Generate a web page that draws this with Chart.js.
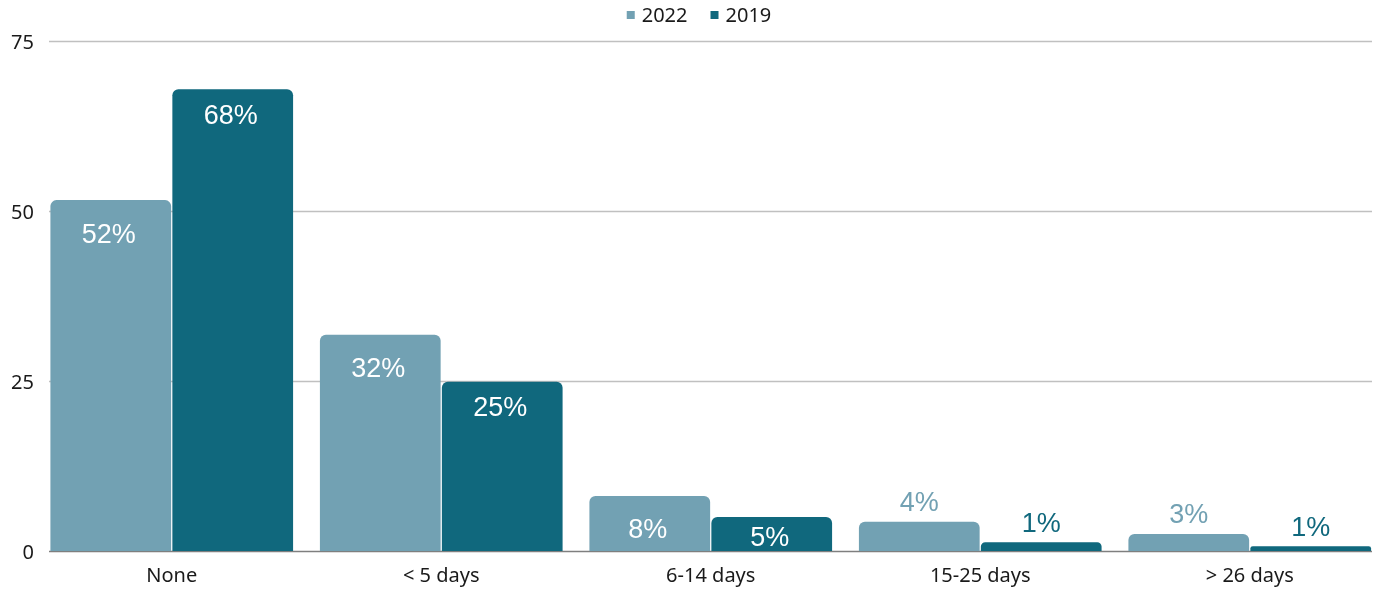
<!DOCTYPE html>
<html>
<head>
<meta charset="utf-8">
<script src="https://cdn.jsdelivr.net/npm/chart.js@4/dist/chart.umd.min.js"></script>
<style>
  html, body { margin: 0; padding: 0; background: #fff; overflow: hidden; }
  #wrap { width: 1400px; height: 590px; }
</style>
</head>
<body>
<div id="wrap"><canvas id="myChart" width="1400" height="590"></canvas></div>
<script>
// data
const categories = ['None', '< 5 days', '6-14 days', '15-25 days', '> 26 days'];
const series2022 = [51.6, 31.8, 8.1, 4.3, 2.5];
const series2019 = [67.9, 24.9, 5.0, 1.3, 0.7];
const yTicks = [0, 25, 50, 75];

const color2022 = '#72a1b3';
const color2019 = '#10687d';

// gridlines drawn by hand so they start at the first bar, not at the axis
const gridLines = {
  id: 'gridLines',
  beforeDatasetsDraw(chart) {
    const { ctx } = chart;
    const y = chart.scales.y;
    ctx.save();
    y.ticks.forEach(t => {
      const py = Math.round(y.getPixelForValue(t.value)) + 0.5;
      ctx.beginPath();
      ctx.strokeStyle = t.value === 0 ? '#7f7f7f' : '#c0c0c0';
      ctx.lineWidth = 1.3;
      ctx.moveTo(49, py);
      ctx.lineTo(1372, py);
      ctx.stroke();
    });
    ctx.restore();
  }
};

// value labels: white inside tall bars, coloured above short ones
const barLabels = {
  id: 'barLabels',
  afterDatasetsDraw(chart) {
    const { ctx } = chart;
    ctx.save();
    ctx.font = '27px "Liberation Sans", Arial, sans-serif';
    ctx.textAlign = 'center';
    ctx.textBaseline = 'middle';
    chart.data.datasets.forEach((ds, di) => {
      const meta = chart.getDatasetMeta(di);
      meta.data.forEach((bar, i) => {
        const v = ds.data[i];
        const txt = Math.round(v) + '%';
        if (v >= 5) {
          ctx.fillStyle = '#ffffff';
          const off = di === 0 ? 35 : 27;
          const ty = Math.min(bar.y + off, bar.base - 12);
          ctx.fillText(txt, bar.x - 2, ty);
        } else {
          ctx.fillStyle = ds.backgroundColor;
          ctx.fillText(txt, bar.x, bar.y - 18);
        }
      });
    });
    ctx.restore();
  }
};

// simple legend at the top
const topLegend = {
  id: 'topLegend',
  afterDraw(chart) {
    const { ctx } = chart;
    ctx.save();
    ctx.font = '20px "Noto Sans", sans-serif';
    ctx.textBaseline = 'middle';
    ctx.textAlign = 'left';
    const items = chart.data.datasets.map(ds => ({ text: ds.label, color: ds.backgroundColor }));
    const box = 8, gap = 7, between = 23;
    let total = 0;
    items.forEach((it, i) => {
      it.w = ctx.measureText(it.text).width;
      total += box + gap + it.w + (i > 0 ? between : 0);
    });
    let x = 699 - total / 2;
    const cy = 15;
    items.forEach(it => {
      ctx.fillStyle = it.color;
      ctx.fillRect(x, cy - box / 2, box, box);
      x += box + gap;
      ctx.fillStyle = '#1a1a1a';
      ctx.fillText(it.text, x, cy + 1);
      x += it.w + between;
    });
    ctx.restore();
  }
};

const ctx = document.getElementById('myChart').getContext('2d');
const myChart = new Chart(ctx, {
  type: 'bar',
  data: {
    labels: categories,
    datasets: [
      {
        label: '2022',
        data: series2022,
        backgroundColor: color2022,
        borderWidth: 0,
        borderRadius: 6,
        categoryPercentage: 0.905,
        barPercentage: 0.99
      },
      {
        label: '2019',
        data: series2019,
        backgroundColor: color2019,
        borderWidth: 0,
        borderRadius: 6,
        categoryPercentage: 0.905,
        barPercentage: 0.99
      }
    ]
  },
  options: {
    responsive: false,
    devicePixelRatio: 1,
    animation: false,
    layout: {
      padding: { top: 41, right: 15.5, left: 0, bottom: 0 }
    },
    plugins: {
      legend: { display: false },
      tooltip: { enabled: false }
    },
    scales: {
      y: {
        min: 0,
        max: 75,
        afterBuildTicks(scale) {
          scale.ticks = yTicks.map(v => ({ value: v }));
        },
        afterFit(scale) { scale.width = 37; },
        grid: { display: false, drawTicks: false },
        border: { display: false },
        ticks: {
          padding: 3,
          labelOffset: 2,
          color: '#1a1a1a',
          font: { family: '"Noto Sans", sans-serif', size: 20 }
        }
      },
      x: {
        afterFit(scale) { scale.height = 39; },
        grid: { display: false, drawTicks: false },
        border: { display: false },
        ticks: {
          padding: 13,
          color: '#1a1a1a',
          font: { family: '"Noto Sans", sans-serif', size: 20 }
        }
      }
    }
  },
  plugins: [gridLines, barLabels, topLegend]
});
</script>
</body>
</html>
